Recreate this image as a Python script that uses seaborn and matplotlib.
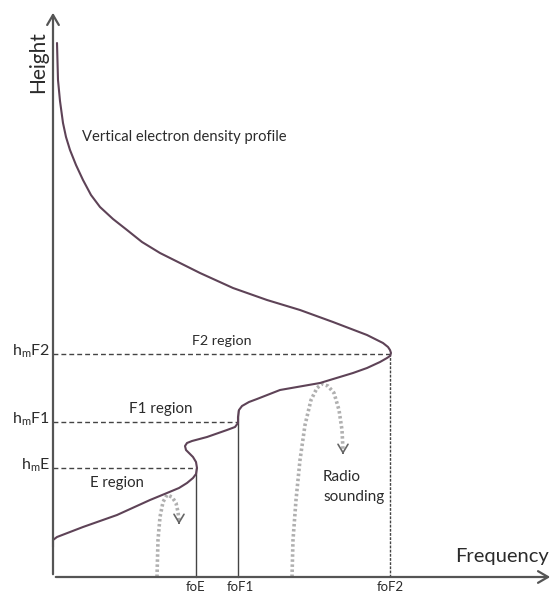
import numpy as np
import pandas as pd
import seaborn as sns
import matplotlib
matplotlib.use("Agg")
import matplotlib.pyplot as plt

# ---- data (schematic units: frequency to the right, height upward) ----
profile_freq = [0, 0, 4, 30, 64, 97, 114, 126, 134, 140, 143, 144, 143, 140, 136, 133, 132, 134, 139,
                154, 174, 182, 185, 185, 186, 189, 196, 204, 227, 267, 300, 314, 327, 334, 337, 338,
                337, 335, 330, 314, 280, 247, 214, 180, 147, 125, 107, 89, 74, 60, 47, 38, 30, 23, 17,
                13, 10, 7, 5, 4]
profile_height = [30, 37, 40, 50, 62, 77, 84, 89, 94, 99, 103, 109, 115, 120, 124, 127, 131, 134, 136,
                  140, 147, 150, 154, 160, 167, 171, 175, 178, 187, 194, 204, 209, 215, 219, 221, 224,
                  227, 230, 234, 242, 255, 267, 277, 289, 304, 315, 324, 335, 347, 358, 370, 382, 397, 412, 427,
                  440, 454, 476, 497, 534]

sounding_big_f = [239, 240, 243, 247, 252, 258, 264, 269, 275, 281, 286, 289, 290]
sounding_big_h = [0, 37, 77, 117, 152, 177, 189, 193, 191, 184, 167, 147, 127]
sounding_small_f = [104, 105, 107, 110, 114, 119, 123, 125, 126]
sounding_small_h = [0, 37, 60, 75, 82, 80, 74, 65, 57]

crit_labels = ["foE", "foF1", "foF2"]
crit_freq = [143, 185, 337]
peak_labels = [r"h$_\mathregular{m}$E", r"h$_\mathregular{m}$F1", r"h$_\mathregular{m}$F2"]
peak_height = [109, 155, 223]
region_labels = ["E region", "F1 region", "F2 region"]

sns.set_theme(style="white")
plt.rcParams["font.family"] = ["Lato", "DejaVu Sans"]

fig = plt.figure(figsize=(5.56, 5.95), dpi=100)
ax = fig.add_axes([0, 0, 1, 1])

axis_col = "#555555"
txt_col = "#2b2b2b"
curve_col = "#5e4357"

# axes with arrows
ax.annotate("", xy=(0, 567), xytext=(0, 0),
            arrowprops=dict(arrowstyle="->,head_length=0.6,head_width=0.35", color=axis_col, lw=1.6))
ax.annotate("", xy=(500, 0), xytext=(0, 0),
            arrowprops=dict(arrowstyle="->,head_length=0.6,head_width=0.35", color=axis_col, lw=1.6))

# dashed peak-height lines and critical frequency verticals
for fq, hh in zip(crit_freq, peak_height):
    ax.plot([0, fq], [hh, hh], color="#444444", lw=1.0, dashes=(3.5, 2.2))
ax.plot([crit_freq[0]] * 2, [0, peak_height[0]], color="#444444", lw=1.0)
ax.plot([crit_freq[1]] * 2, [0, 167], color="#444444", lw=1.0)
ax.plot([crit_freq[2]] * 2, [0, peak_height[2]], color="#444444", lw=1.0, dashes=(2.0, 1.0))

# radio sounding paths
for fs, hs in [(sounding_big_f, sounding_big_h), (sounding_small_f, sounding_small_h)]:
    ax.plot(fs, hs, color="#b0b0b0", lw=2.6, dashes=(0.7, 0.7))
    ax.annotate("", xy=(fs[-1], hs[-1] - 7), xytext=(fs[-1], hs[-1]),
                arrowprops=dict(arrowstyle="->,head_length=0.5,head_width=0.3", color="#666666", lw=1.2))

# electron density profile
df = pd.DataFrame({"freq": profile_freq, "height": profile_height})
sns.lineplot(data=df, x="freq", y="height", sort=False, estimator=None, ax=ax,
             color=curve_col, lw=1.5)
ax.set_xlim(-53, 503)
ax.set_ylim(-18, 577)
ax.axis("off")

# labels
ax.text(-15, 515, "Height", rotation=90, ha="center", va="center", fontsize=15, color=txt_col)
ax.text(449, 12, "Frequency", ha="center", va="bottom", fontsize=14.5, color=txt_col)
ax.text(29, 440, "Vertical electron density profile", ha="left", va="center", fontsize=10.6, color=txt_col)
ax.text(64, 94, region_labels[0], ha="center", va="center", fontsize=10.7, color=txt_col)
ax.text(108, 168, region_labels[1], ha="center", va="center", fontsize=10.9, color=txt_col)
ax.text(169, 236, region_labels[2], ha="center", va="center", fontsize=10.3, color=txt_col)
ax.text(270, 100, "Radio", ha="left", va="center", fontsize=11, color=txt_col)
ax.text(270, 80, "sounding", ha="left", va="center", fontsize=11, color=txt_col)
for lab, hh in zip(peak_labels, peak_height):
    ax.text(-3, hh + 3, lab, ha="right", va="center", fontsize=11.5, color=txt_col)
for lab, fq in zip(crit_labels, crit_freq):
    ax.text(fq + (2 if lab == "foF1" else 0), -10, lab, ha="center", va="center", fontsize=9.5, color=txt_col)

fig.savefig("out.png", dpi=100, facecolor="white")
